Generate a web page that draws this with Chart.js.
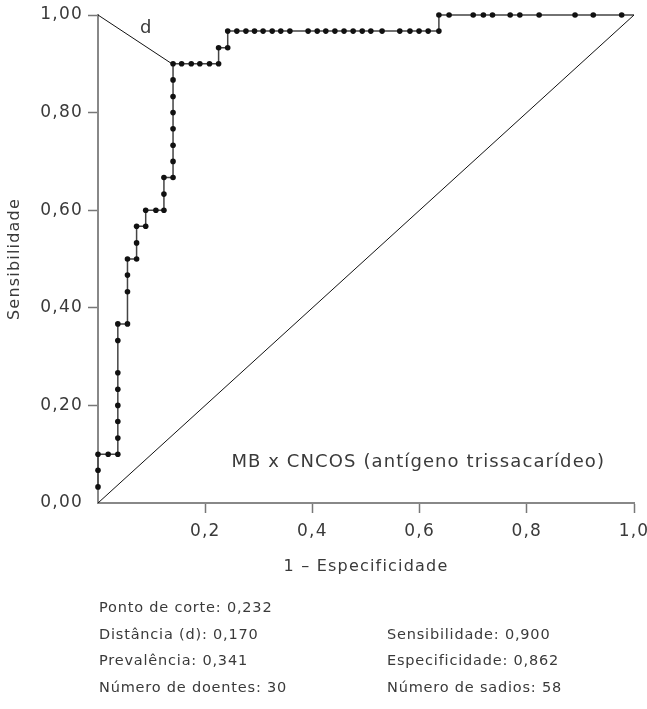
<!DOCTYPE html>
<html>
<head>
<meta charset="utf-8">
<script src="https://cdn.jsdelivr.net/npm/chart.js@4.4.0/dist/chart.umd.min.js"></script>
<style>
  body { margin: 0; background: #fff; }
  #wrap { position: relative; width: 647px; height: 709px; }
  .stat { position: absolute; font-family: "DejaVu Sans", sans-serif; font-size: 14.5px; letter-spacing: 0.8px; color: #3a3a3a; line-height: 18px; white-space: nowrap; }
</style>
</head>
<body>
<div id="wrap">
  <canvas id="roc" width="647" height="709"></canvas>
  <div class="stat" style="left:99px; top:598px;">Ponto de corte: 0,232</div>
  <div class="stat" style="left:99px; top:625px;">Distância (d): 0,170</div>
  <div class="stat" style="left:387px; top:625px;">Sensibilidade: 0,900</div>
  <div class="stat" style="left:99px; top:651px;">Prevalência: 0,341</div>
  <div class="stat" style="left:387px; top:651px;">Especificidade: 0,862</div>
  <div class="stat" style="left:99px; top:678px;">Número de doentes: 30</div>
  <div class="stat" style="left:387px; top:678px;">Número de sadios: 58</div>
</div>
<script>
// Pontos da curva ROC (1 - especificidade, sensibilidade)
const fpr = [0, 0, 0, 0.019, 0.037, 0.037, 0.037, 0.037, 0.037, 0.037, 0.037, 0.037,
  0.055, 0.055, 0.055, 0.055, 0.072, 0.072, 0.072, 0.089, 0.089, 0.108, 0.123, 0.123, 0.123,
  0.140, 0.140, 0.140, 0.140, 0.140, 0.140, 0.140, 0.140, 0.156, 0.174, 0.190, 0.208, 0.225,
  0.225, 0.242, 0.242, 0.259, 0.276, 0.292, 0.308, 0.325, 0.341, 0.358, 0.392, 0.409, 0.425,
  0.442, 0.459, 0.476, 0.493, 0.509, 0.530, 0.563, 0.582, 0.599, 0.616, 0.636, 0.636, 0.655,
  0.700, 0.719, 0.736, 0.769, 0.787, 0.823, 0.890, 0.924, 0.977, 1.0];
const sens = [0.033, 0.067, 0.100, 0.100, 0.100, 0.133, 0.167, 0.200, 0.233, 0.267, 0.333, 0.367,
  0.367, 0.433, 0.467, 0.500, 0.500, 0.533, 0.567, 0.567, 0.600, 0.600, 0.600, 0.633, 0.667,
  0.667, 0.700, 0.733, 0.767, 0.800, 0.833, 0.867, 0.900, 0.900, 0.900, 0.900, 0.900, 0.900,
  0.933, 0.933, 0.967, 0.967, 0.967, 0.967, 0.967, 0.967, 0.967, 0.967, 0.967, 0.967, 0.967,
  0.967, 0.967, 0.967, 0.967, 0.967, 0.967, 0.967, 0.967, 0.967, 0.967, 0.967, 1.0, 1.0,
  1.0, 1.0, 1.0, 1.0, 1.0, 1.0, 1.0, 1.0, 1.0, 1.0];

// Ponto de corte escolhido
const cutX = 0.138;
const cutY = 0.900;

const xTicks = [0.2, 0.4, 0.6, 0.8, 1.0];
const yTicks = [0, 0.2, 0.4, 0.6, 0.8, 1.0];

const fontFam = '"DejaVu Sans", sans-serif';
const txt = '#3a3a3a';

const rocData = fpr.map((x, i) => ({ x: x, y: sens[i] }));

// Espaçamento entre letras (a fonte original é bem larga)
const spacingPlugin = {
  id: 'spacing',
  beforeLayout(chart) { chart.ctx.letterSpacing = '1.2px'; },
  beforeDraw(chart) { chart.ctx.letterSpacing = '1.2px'; }
};

// Textos dentro do gráfico
const labelsPlugin = {
  id: 'labels',
  afterDatasetsDraw(chart) {
    const { ctx, scales: { x, y } } = chart;
    ctx.save();
    ctx.fillStyle = txt;
    ctx.font = '18px ' + fontFam;
    ctx.letterSpacing = '1.1px';
    ctx.textBaseline = 'middle';
    ctx.textAlign = 'center';
    ctx.fillText('d', x.getPixelForValue(0.09), y.getPixelForValue(0.973));
    ctx.textAlign = 'right';
    ctx.fillText('MB x CNCOS (antígeno trissacarídeo)', x.getPixelForValue(0.946), y.getPixelForValue(0.084));
    ctx.restore();
  }
};

new Chart('roc', {
  type: 'scatter',
  data: {
    datasets: [
      {
        data: [{ x: 0, y: 0 }, { x: 1, y: 1 }],
        showLine: true, borderColor: '#111', borderWidth: 1, pointRadius: 0, clip: false
      },
      {
        data: [{ x: 0, y: 1 }, { x: cutX, y: cutY }],
        showLine: true, borderColor: '#111', borderWidth: 1, pointRadius: 0, clip: false
      },
      {
        data: rocData,
        showLine: true,
        borderColor: '#444',
        borderWidth: 1.5,
        pointRadius: ctx => ctx.dataIndex === rocData.length - 1 ? 0 : 2.8,
        pointBackgroundColor: '#111',
        pointBorderWidth: 0,
        clip: false
      }
    ]
  },
  options: {
    responsive: false,
    animation: false,
    devicePixelRatio: 1,
    layout: { padding: { top: 15, right: 13, left: 0, bottom: 0 } },
    plugins: { legend: { display: false }, tooltip: { enabled: false } },
    scales: {
      x: {
        type: 'linear', min: 0, max: 1,
        afterFit: s => { s.height = 206; s.paddingLeft = 0; s.paddingRight = 0; },
        afterBuildTicks: s => { s.ticks = [0].concat(xTicks).map(v => ({ value: v })); },
        ticks: {
          color: txt, padding: 8,
          font: { family: fontFam, size: 17 },
          callback: v => v === 0 ? '' : v.toFixed(1).replace('.', ',')
        },
        grid: {
          drawOnChartArea: false, tickLength: 10, tickWidth: 1.5,
          tickColor: c => c.tick && c.tick.value === 0 ? 'rgba(0,0,0,0)' : '#777'
        },
        border: { color: '#888', width: 2 },
        title: {
          display: true, text: '1 – Especificidade', color: txt,
          font: { family: fontFam, size: 16 },
          padding: { top: 0, bottom: 133 }
        }
      },
      y: {
        type: 'linear', min: 0, max: 1,
        afterFit: s => { s.width = 98; s.paddingTop = 0; s.paddingBottom = 0; },
        afterBuildTicks: s => { s.ticks = yTicks.map(v => ({ value: v })); },
        ticks: {
          color: txt, padding: 5,
          font: { family: fontFam, size: 17 },
          callback: v => v.toFixed(2).replace('.', ',')
        },
        grid: {
          drawOnChartArea: false, tickLength: 10, tickWidth: 1.5,
          tickColor: c => c.tick && c.tick.value === 0 ? 'rgba(0,0,0,0)' : '#777'
        },
        border: { color: '#888', width: 2 },
        title: {
          display: true, text: 'Sensibilidade', color: txt,
          font: { family: fontFam, size: 16 },
          padding: { top: 5, bottom: 0 }
        }
      }
    }
  },
  plugins: [spacingPlugin, labelsPlugin]
});
</script>
</body>
</html>
